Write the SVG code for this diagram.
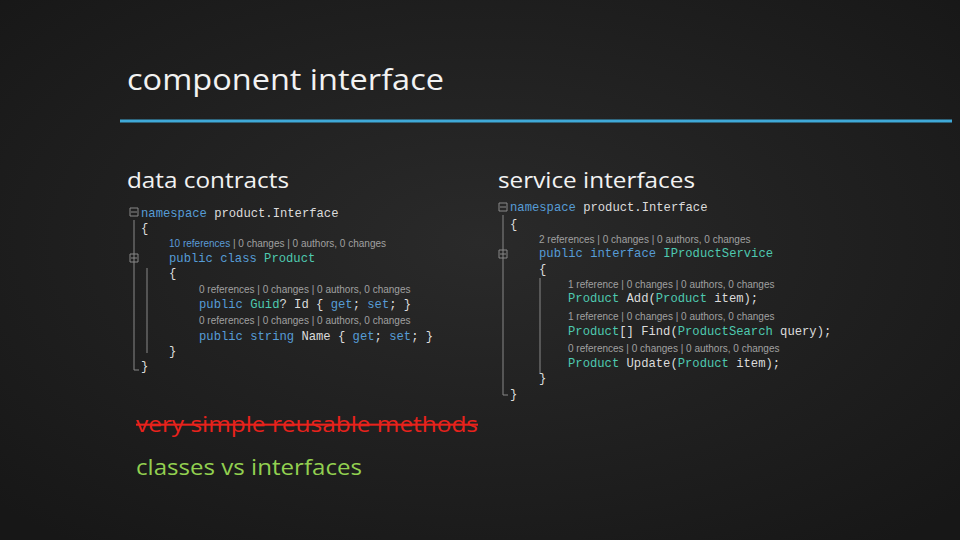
<svg xmlns="http://www.w3.org/2000/svg" width="960" height="540" viewBox="0 0 960 540">
<defs>
<radialGradient id="bg" cx="50%" cy="45%" r="70%"><stop offset="0" stop-color="#2a2a2a"/><stop offset="1" stop-color="#171717"/></radialGradient>
</defs>
<style>
.h{font-family:"Open Sans","Liberation Sans",sans-serif;fill:#f2f2f2}
.c{font-family:"Liberation Mono",monospace;font-size:12.2px;fill:#dcdcdc;white-space:pre}
.k{fill:#569cd6}.t{fill:#4ec9b0}
.a{font-family:"Liberation Sans",sans-serif;font-size:10px;fill:#a0a0a0}
.g{stroke:#888;stroke-width:1;fill:none}
</style>
<rect width="960" height="540" fill="url(#bg)"/>
<text class="h" x="127" y="90" font-size="29" textLength="317" lengthAdjust="spacingAndGlyphs">component interface</text>
<line x1="120" y1="121" x2="952" y2="121" stroke="#3fa9d8" stroke-width="3"/>
<text class="h" x="127" y="188" font-size="22" textLength="162" lengthAdjust="spacingAndGlyphs">data contracts</text>
<text class="h" x="498" y="188" font-size="22" textLength="197" lengthAdjust="spacingAndGlyphs">service interfaces</text>
<g id="left-code">
<path class="g" d="M130 208h8v8h-8zM131 212h6M134 220v150h5M130 254h8v8h-8zM131 258h6M147 268v85"/>
<text class="c" x="141" y="217"><tspan class="k">namespace</tspan> product.Interface</text>
<text class="c" x="141" y="232">{</text>
<text class="a" x="169" y="247"><tspan fill="#5a9bd8">10 references</tspan> | 0 changes | 0 authors, 0 changes</text>
<text class="c" x="169" y="262"><tspan class="k">public class</tspan> <tspan class="t">Product</tspan></text>
<text class="c" x="169" y="277">{</text>
<text class="a" x="199" y="293">0 references | 0 changes | 0 authors, 0 changes</text>
<text class="c" x="199" y="308"><tspan class="k">public</tspan> <tspan class="t">Guid</tspan>? Id { <tspan class="k">get</tspan>; <tspan class="k">set</tspan>; }</text>
<text class="a" x="199" y="324">0 references | 0 changes | 0 authors, 0 changes</text>
<text class="c" x="199" y="340"><tspan class="k">public string</tspan> Name { <tspan class="k">get</tspan>; <tspan class="k">set</tspan>; }</text>
<text class="c" x="169" y="355">}</text>
<text class="c" x="141" y="370">}</text>
</g>
<g id="right-code">
<path class="g" d="M499 203h8v8h-8zM500 207h6M503 215v180h5M499 250h8v8h-8zM500 254h6M540 278v96"/>
<text class="c" x="510" y="211"><tspan class="k">namespace</tspan> product.Interface</text>
<text class="c" x="510" y="228">{</text>
<text class="a" x="539" y="243">2 references | 0 changes | 0 authors, 0 changes</text>
<text class="c" x="539" y="257"><tspan class="k">public interface</tspan> <tspan class="t">IProductService</tspan></text>
<text class="c" x="539" y="273">{</text>
<text class="a" x="568" y="288">1 reference | 0 changes | 0 authors, 0 changes</text>
<text class="c" x="568" y="302"><tspan class="t">Product</tspan> Add(<tspan class="t">Product</tspan> item);</text>
<text class="a" x="568" y="320">1 reference | 0 changes | 0 authors, 0 changes</text>
<text class="c" x="568" y="335"><tspan class="t">Product</tspan>[] Find(<tspan class="t">ProductSearch</tspan> query);</text>
<text class="a" x="568" y="352">0 references | 0 changes | 0 authors, 0 changes</text>
<text class="c" x="568" y="367"><tspan class="t">Product</tspan> Update(<tspan class="t">Product</tspan> item);</text>
<text class="c" x="539" y="382">}</text>
<text class="c" x="510" y="398">}</text>
</g>
<text class="h" x="136" y="432" font-size="21" style="fill:#e8221c" text-decoration="line-through" textLength="342" lengthAdjust="spacingAndGlyphs">very simple reusable methods</text>
<text class="h" x="136" y="475" font-size="21" style="fill:#92d050" textLength="226" lengthAdjust="spacingAndGlyphs">classes vs interfaces</text>
</svg>
